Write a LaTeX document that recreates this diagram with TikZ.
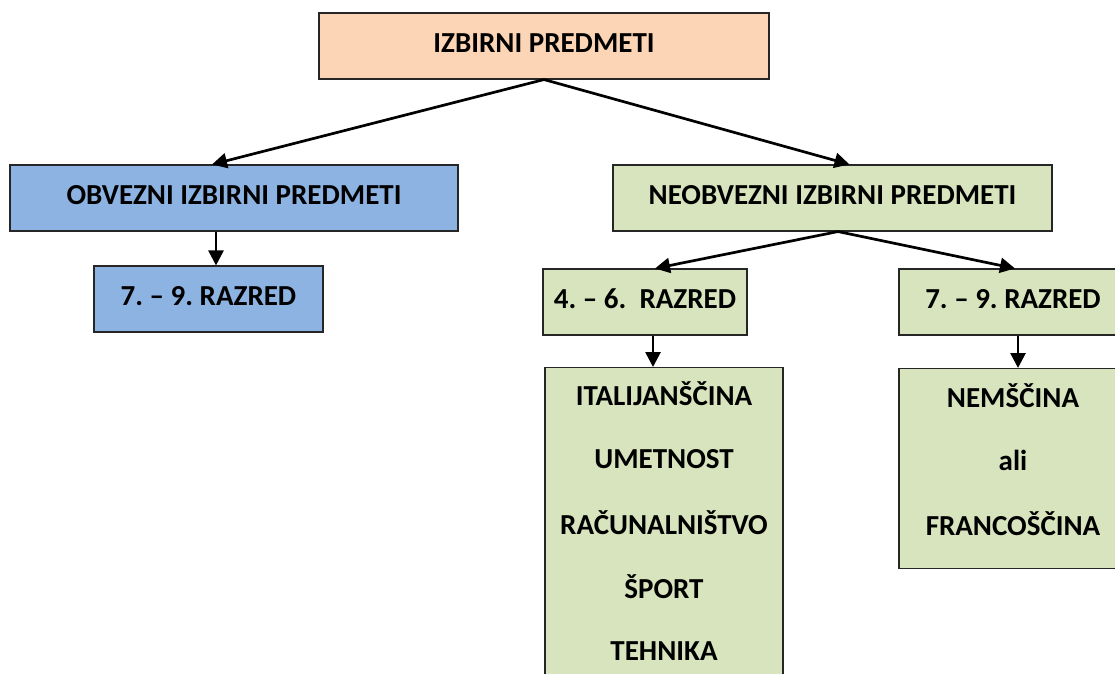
\documentclass[tikz,border=0pt]{standalone}
\usepackage{fontspec}
\setmainfont{Carlito}
\usetikzlibrary{arrows.meta}
\definecolor{peach}{HTML}{FBD5B5}
\definecolor{bluebox}{HTML}{8DB3E2}
\definecolor{greenbox}{HTML}{D7E4BD}
\tikzset{
  box/.style={draw=black!85, line width=1.1pt, minimum height=66pt, inner sep=0pt, text height=20pt, text depth=8pt, font=\fontsize{29}{31}\selectfont\bfseries},
  itemtxt/.style={inner sep=0pt, font=\fontsize{29}{31}\selectfont\bfseries},
  conn/.style={line width=2.7pt, -{Triangle[length=15pt,width=15pt]}},
}
\frenchspacing
\begin{document}
\begin{tikzpicture}[x=1pt,y=-1pt]
\useasboundingbox (0,0) rectangle (1115,673);
% boxes
\node[box, fill=peach, minimum width=450pt] (top) at (544,46) {IZBIRNI PREDMETI};
\node[box, fill=bluebox, minimum width=448pt] (obv) at (234,198) {OBVEZNI IZBIRNI PREDMETI};
\node[box, fill=bluebox, minimum width=229pt] (rl) at (208.5,299) {7. – 9. RAZRED};
\node[box, fill=greenbox, minimum width=439pt] (neo) at (832.5,198) {NEOBVEZNI IZBIRNI PREDMETI};
\node[box, fill=greenbox, minimum width=204pt] (r46) at (645,302) {4. – 6.\ \ RAZRED};
\node[box, fill=greenbox, minimum width=228pt] (r79) at (1013,302) {7. – 9. RAZRED};
\node[box, fill=greenbox, minimum width=238pt, minimum height=340pt, anchor=north] (list1) at (664,367) {};
\node[box, fill=greenbox, minimum width=228pt, minimum height=200pt, anchor=north] (list2) at (1013,368) {};
% list texts
\node[itemtxt] (i1) at (664,394) {ITALIJANŠČINA};
\node[itemtxt] (i2) at (664,459) {UMETNOST};
\node[itemtxt] (i3) at (664,523) {RAČUNALNIŠTVO};
\node[itemtxt] (i4) at (664,587) {ŠPORT};
\node[itemtxt] (i5) at (664,651) {TEHNIKA};
\node[itemtxt] (j1) at (1013,396) {NEMŠČINA};
\node[itemtxt] (j2) at (1013,460) {ali};
\node[itemtxt] (j3) at (1013,524) {FRANCOŠČINA};
% connectors
\draw[conn] (top.south) -- ([xshift=-22pt]obv.north);
\draw[conn] (top.south) -- ([xshift=17pt]neo.north);
\draw[conn] ([xshift=-18pt]obv.south) -- ([xshift=7.5pt]rl.north);
\draw[conn] ([xshift=5.5pt]neo.south) -- ([xshift=10pt]r46.north);
\draw[conn] ([xshift=5.5pt]neo.south) -- ([xshift=2pt]r79.north);
\draw[conn] ([xshift=8pt]r46.south) -- ([xshift=-11pt]list1.north);
\draw[conn] ([xshift=5pt]r79.south) -- ([xshift=5pt]list2.north);
\end{tikzpicture}
\end{document}
